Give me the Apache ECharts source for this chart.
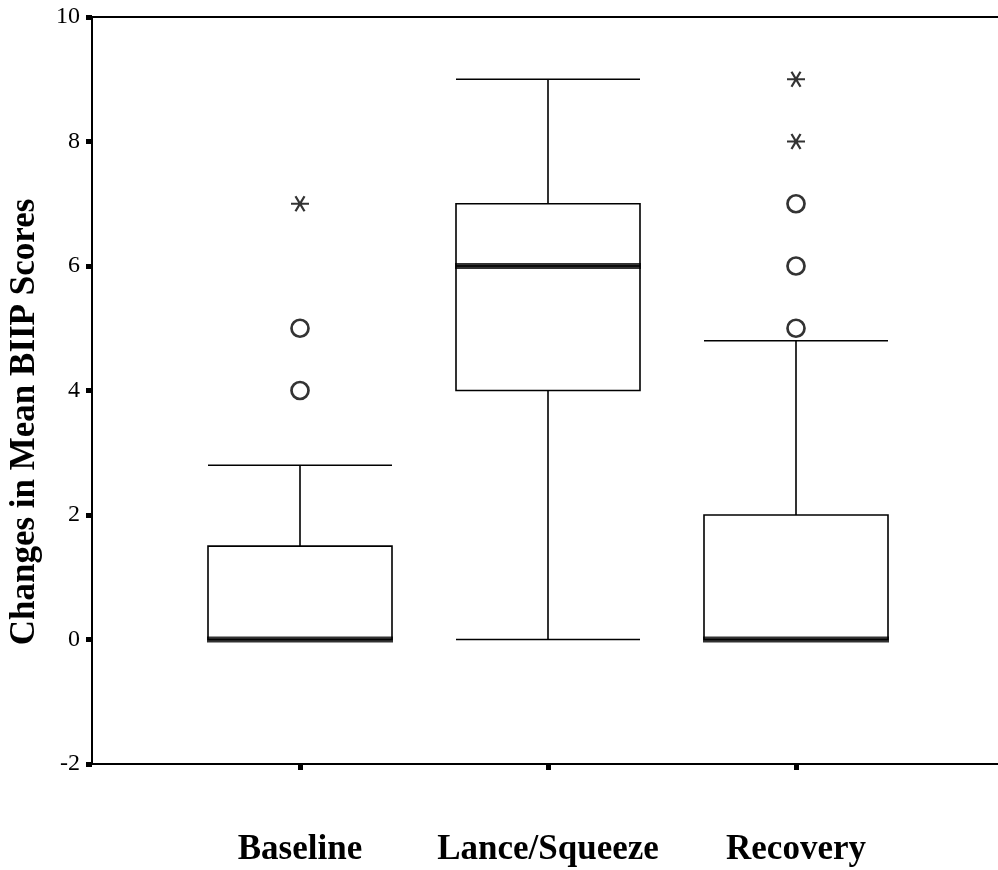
<!DOCTYPE html>
<html>
<head>
<meta charset="utf-8">
<script src="https://cdn.jsdelivr.net/npm/echarts@6/dist/echarts.min.js"></script>
<style>
html,body{margin:0;padding:0;background:#fff;}
#chart{width:998px;height:870px;}
</style>
</head>
<body>
<div id="chart"></div>
<script>
var categories = ['Baseline', 'Lance/Squeeze', 'Recovery'];
var whiskerLow = [0, 0, 0];
var quartile1 = [0, 4, 0];
var medians = [0, 6, 0];
var quartile3 = [1.5, 7, 2];
var whiskerHigh = [2.8, 9, 4.8];
var circleOutliers = [[0, 4], [0, 5], [2, 5], [2, 6], [2, 7]];
var extremeOutliers = [[0, 7], [2, 8], [2, 9]];
var yMin = -2, yMax = 10, yStep = 2;
var yTitle = 'Changes in Mean BIIP Scores';

var boxData = categories.map(function (c, i) {
  return [whiskerLow[i], quartile1[i], medians[i], quartile3[i], whiskerHigh[i]];
});
var medianData = categories.map(function (c, i) { return [i, medians[i]]; });

var asteriskPath = 'path://M8,-1 L8,1 L-8,1 L-8,-1 Z ' +
  'M4.87,6.43 L3.13,7.43 L-4.87,-6.43 L-3.13,-7.43 Z ' +
  'M-3.13,7.43 L-4.87,6.43 L3.13,-7.43 L4.87,-6.43 Z';

var serif = '"Liberation Serif", "DejaVu Serif", serif';
var chart = echarts.init(document.getElementById('chart'), null, {renderer: 'canvas'});
chart.setOption({
  animation: false,
  backgroundColor: '#fff',
  grid: [
    {left: 92, right: 0, top: 17, bottom: 106},
    {left: 176, right: 78, top: 17, bottom: 106}
  ],
  xAxis: [
    {type: 'value', gridIndex: 0, min: 0, max: 1, position: 'bottom',
     axisLine: {show: true, onZero: false, lineStyle: {color: '#000', width: 2}},
     axisTick: {show: false}, axisLabel: {show: false}, splitLine: {show: false}},
    {type: 'value', gridIndex: 0, min: 0, max: 1, position: 'top',
     axisLine: {show: true, onZero: false, lineStyle: {color: '#000', width: 2}},
     axisTick: {show: false}, axisLabel: {show: false}, splitLine: {show: false}},
    {type: 'category', gridIndex: 1, data: categories, position: 'bottom',
     axisLine: {show: false, onZero: false},
     axisTick: {show: true, alignWithLabel: true, length: 6, lineStyle: {color: '#000', width: 5}},
     axisLabel: {show: true, interval: 0, margin: 68, color: '#000', fontFamily: serif, fontWeight: 'bold', fontSize: 35, lineHeight: 35},
     splitLine: {show: false}}
  ],
  yAxis: [
    {type: 'value', gridIndex: 0, min: yMin, max: yMax, interval: yStep,
     axisLine: {show: true, onZero: false, lineStyle: {color: '#000', width: 2}},
     axisTick: {show: true, length: 6, lineStyle: {color: '#000', width: 5}},
     axisLabel: {show: true, margin: 12, color: '#000', fontFamily: serif, fontSize: 24},
     splitLine: {show: false}},
    {type: 'value', gridIndex: 1, min: yMin, max: yMax, interval: yStep, show: false,
     splitLine: {show: false}}
  ],
  graphic: [
    {type: 'text', x: 25, y: 422, rotation: Math.PI / 2,
     style: {text: yTitle, fill: '#000', font: 'bold 35px ' + serif, align: 'center', verticalAlign: 'middle'}}
  ],
  series: [
    {type: 'boxplot', xAxisIndex: 2, yAxisIndex: 1, data: boxData,
     boxWidth: [184, 184],
     itemStyle: {color: '#fff', borderColor: '#000', borderWidth: 1.6},
     emphasis: {disabled: true}, silent: true},
    {type: 'scatter', xAxisIndex: 2, yAxisIndex: 1, data: medianData,
     symbol: 'rect', symbolSize: [186, 6],
     itemStyle: {color: '#000'}, emphasis: {disabled: true}, silent: true, z: 3},
    {type: 'scatter', xAxisIndex: 2, yAxisIndex: 1, data: circleOutliers,
     symbol: 'circle', symbolSize: 17,
     itemStyle: {color: '#fff', borderColor: '#000', borderWidth: 2.7},
     emphasis: {disabled: true}, silent: true, z: 4},
    {type: 'scatter', xAxisIndex: 2, yAxisIndex: 1, data: extremeOutliers,
     symbol: asteriskPath, symbolSize: [18, 16],
     itemStyle: {color: '#000'}, emphasis: {disabled: true}, silent: true, z: 4}
  ]
});
</script>
</body>
</html>
